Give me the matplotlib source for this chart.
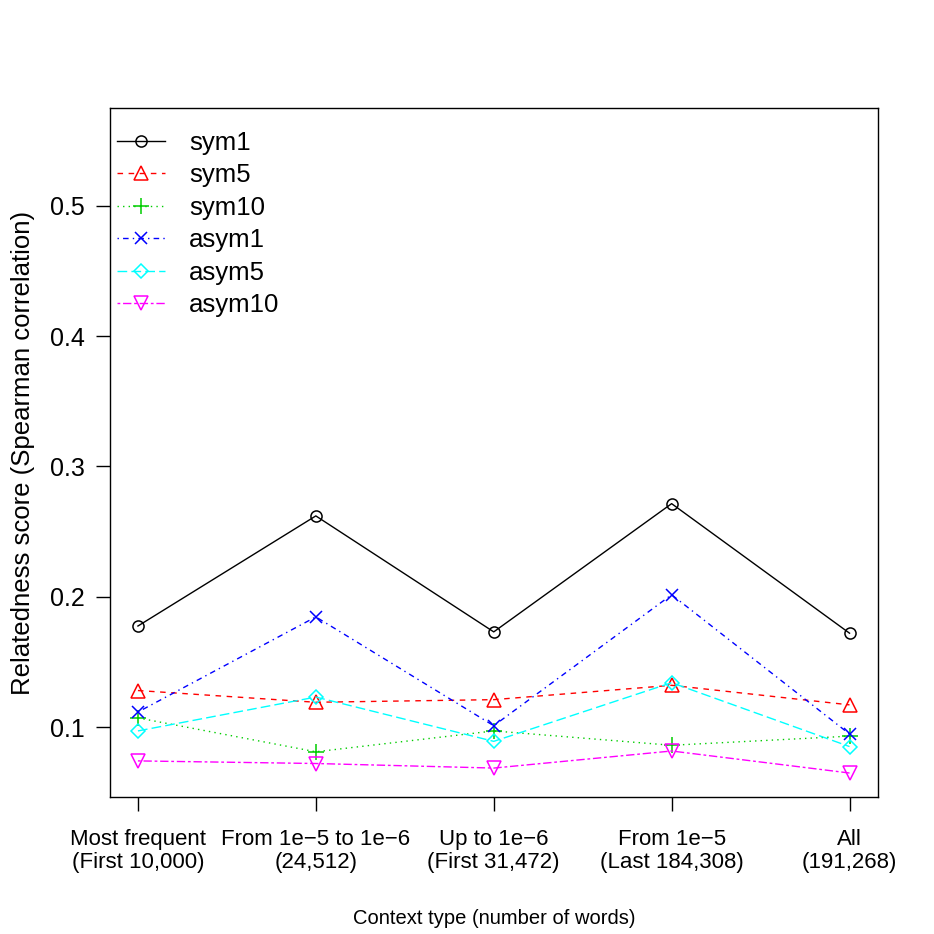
import matplotlib
matplotlib.use("Agg")
import matplotlib.pyplot as plt

plt.rcParams['font.family'] = ['Liberation Sans', 'DejaVu Sans']

categories = ["Most frequent\n(First 10,000)", "From 1e\u22125 to 1e\u22126\n(24,512)",
              "Up to 1e\u22126\n(First 31,472)", "From 1e\u22125\n(Last 184,308)", "All\n(191,268)"]
x = [1, 2, 3, 4, 5]

sym1 = [0.1775, 0.262, 0.173, 0.2714, 0.172]
sym5 = [0.128, 0.119, 0.121, 0.132, 0.117]
sym10 = [0.107, 0.081, 0.097, 0.086, 0.093]
asym1 = [0.1115, 0.1845, 0.101, 0.2015, 0.0946]
asym5 = [0.097, 0.123, 0.089, 0.134, 0.085]
asym10 = [0.074, 0.072, 0.0685, 0.0816, 0.0647]

series = [("sym1", sym1, "black", "-", "o", 8),
          ("sym5", sym5, "red", (0, (4, 4)), "^", 10),
          ("sym10", sym10, "#00cd00", (0, (1, 3)), "+", 11),
          ("asym1", asym1, "blue", (0, (1, 3, 4, 3)), "x", 8.5),
          ("asym5", asym5, "cyan", (0, (7, 3)), "D", 7.5),
          ("asym10", asym10, "magenta", (0, (2, 2, 6, 2)), "v", 10)]

fig = plt.figure(figsize=(9.34, 9.34), dpi=100)
ax = fig.add_axes([110/934, 1-797/934, (878-110)/934, (797-108)/934])

for name, vals, col, ls, mk, ms in series:
    ax.plot(x, vals, color=col, linestyle=ls, marker=mk, markersize=ms,
            markerfacecolor='none', markeredgecolor=col, markeredgewidth=1.1,
            linewidth=1.0, label=name)

ax.set_xlim(0.843, 5.16)
ax.set_ylim(0.0463, 0.575)
ax.set_xticks(x)
ax.set_xticklabels(categories, fontsize=16, linespacing=1.15)
ax.set_yticks([0.1, 0.2, 0.3, 0.4, 0.5])
ax.set_yticklabels(["0.1", "0.2", "0.3", "0.4", "0.5"], fontsize=18)
ax.tick_params(axis='both', direction='out', length=10, width=1)
ax.tick_params(axis='x', pad=13)
ax.tick_params(axis='y', pad=8)
for s in ax.spines.values():
    s.set_linewidth(1.0)

ax.set_xlabel("Context type (number of words)", fontsize=14.5, labelpad=26)
ax.set_ylabel("Relatedness score (Spearman correlation)", fontsize=18.5, labelpad=11)

ax.legend(loc='upper left', frameon=False, fontsize=18.5, handlelength=1.87,
          handletextpad=0.93, labelspacing=0.33, borderaxespad=0, borderpad=0,
          bbox_to_anchor=(7/768, 1 - 23/689))

fig.savefig("out.png", dpi=100)
